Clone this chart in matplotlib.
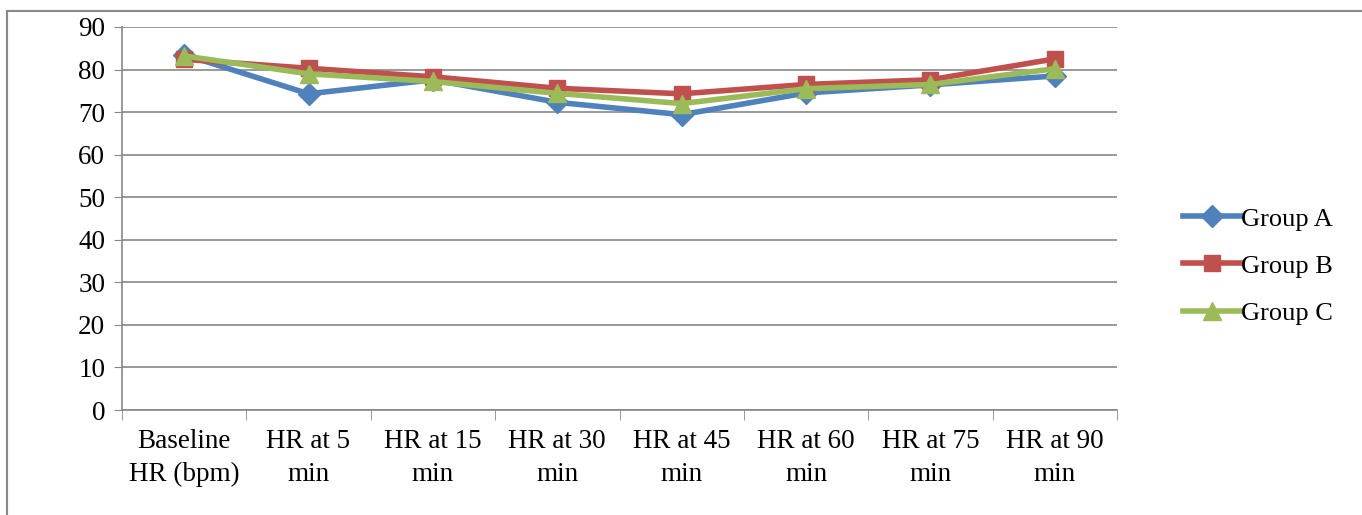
import numpy as np
import matplotlib.pyplot as plt
from matplotlib.lines import Line2D

categories = ['Baseline\nHR (bpm)', 'HR at 5\nmin', 'HR at 15\nmin', 'HR at 30\nmin',
              'HR at 45\nmin', 'HR at 60\nmin', 'HR at 75\nmin', 'HR at 90\nmin']
group_a = [83.5, 74.3, 77.6, 72.3, 69.4, 74.5, 76.4, 78.5]
group_b = [82.4, 80.3, 78.3, 75.6, 74.3, 76.5, 77.6, 82.5]
group_c = [83.2, 79.0, 77.2, 74.4, 72.0, 75.5, 76.5, 80.2]

plt.rcParams['font.family'] = ['Liberation Serif', 'DejaVu Serif']

fig = plt.figure(figsize=(13.62, 5.15), dpi=100)
ax = fig.add_axes([122/1362, 1-410/515, 995/1362, 383/515])

x = np.arange(len(categories))
ax.plot(x, group_a, color='#4F81BD', lw=4, marker='D', ms=11, label='Group A')
ax.plot(x, group_b, color='#C0504D', lw=4, marker='s', ms=12, label='Group B')
ax.plot(x, group_c, color='#9BBB59', lw=4, marker='^', ms=13, label='Group C')

ax.set_ylim(0, 90)
ax.set_yticks(range(0, 91, 10))
ax.set_xlim(-0.5, len(categories)-0.5)
ax.set_xticks(x)
ax.set_xticklabels(categories, fontsize=19.5, linespacing=1.38)
ax.set_xticks(np.arange(-0.5, len(categories), 1), minor=True)
ax.tick_params(axis='x', which='major', length=0, pad=14)
ax.tick_params(axis='x', which='minor', length=7, color='#888888')
ax.tick_params(axis='y', labelsize=19.5, length=6, color='#888888', pad=6)
ax.yaxis.grid(True, color='#888888', lw=1.2)
ax.set_axisbelow(True)
for s in ['top', 'right']:
    ax.spines[s].set_visible(False)
for s in ['left', 'bottom']:
    ax.spines[s].set_color('#888888')
    ax.spines[s].set_linewidth(1.2)

ax.legend(loc='center left', bbox_to_anchor=(1.042, 0.376), frameon=False, fontsize=19,
          handlelength=2.2, handletextpad=0.02, labelspacing=0.9)

# outer frame (top and left edges only visible)
fig.add_artist(Line2D([7/1362, 1], [1-11/515, 1-11/515], color='#888888', lw=1.5))
fig.add_artist(Line2D([7/1362, 7/1362], [0, 1-11/515], color='#888888', lw=1.5))
fig.savefig('out.png', dpi=100)
